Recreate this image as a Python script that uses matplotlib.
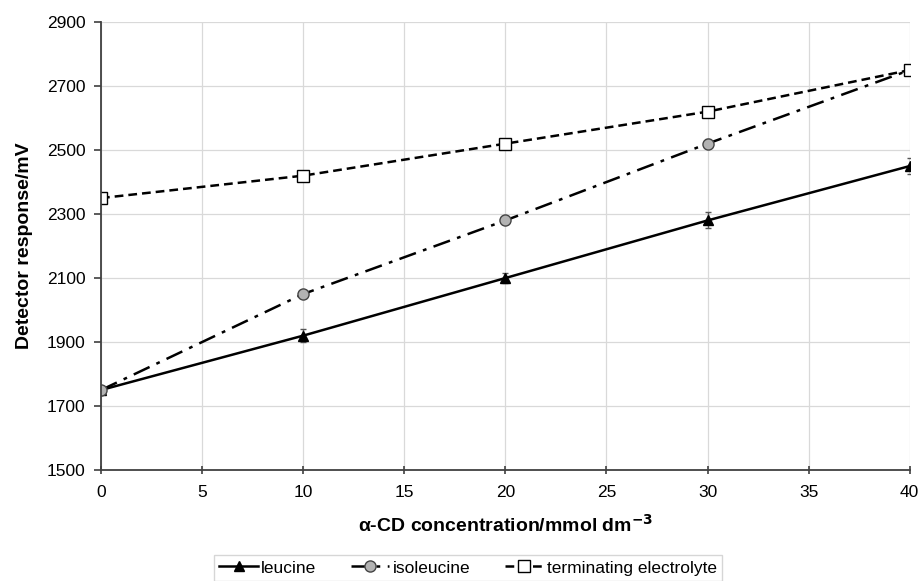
import matplotlib.pyplot as plt

plt.rcParams['font.family'] = ['Liberation Sans', 'DejaVu Sans']

# concentracion de alfa-CD (mmol dm-3)
conc = [0, 10, 20, 30, 40]
leucina = [1750, 1920, 2100, 2280, 2450]
leucina_err = [10, 20, 15, 25, 25]
isoleucina = [1750, 2050, 2280, 2520, 2750]
isoleucina_err = [10, 10, 10, 15, 10]
electrolito = [2350, 2420, 2520, 2620, 2750]
electrolito_err = [5, 5, 5, 5, 10]

fig = plt.figure(figsize=(9.2, 5.81), dpi=100)
ax = fig.add_axes([0.1098, 0.191, 0.879, 0.771])

# barras de error (sin leyenda)
for y, e in [(leucina, leucina_err), (isoleucina, isoleucina_err), (electrolito, electrolito_err)]:
    ax.errorbar(conc, y, yerr=e, fmt='none', ecolor='#555555', elinewidth=1, capsize=2)

ax.plot(conc, leucina, color='black', lw=1.8, ls='-', marker='^', ms=7,
        mfc='black', mec='black', label='leucine')
ax.plot(conc, isoleucina, color='black', lw=1.8, ls=(0, (7, 3, 1.5, 3)),
        marker='o', ms=8, mfc='#b3b3b3', mec='#444444', label='isoleucine')
ax.plot(conc, electrolito, color='black', lw=1.8, ls=(0, (3.5, 2)),
        marker='s', ms=8, mfc='white', mec='black', label='terminating electrolyte')

ax.set_xlim(0, 40)
ax.set_ylim(1500, 2900)
ax.set_xticks(range(0, 41, 5))
ax.set_yticks(range(1500, 2901, 200))
ax.grid(True, color='#d9d9d9', lw=0.9)
ax.set_axisbelow(True)
for s in ['top', 'right']:
    ax.spines[s].set_visible(False)
for s in ['left', 'bottom']:
    ax.spines[s].set_color('#404040')
    ax.spines[s].set_linewidth(1.3)
ax.tick_params(axis='y', direction='out', length=5, width=1.2, color='#404040',
               labelsize=12.5, pad=6)
ax.tick_params(axis='x', direction='inout', length=6, width=1.2, color='#404040',
               labelsize=12.5, pad=8)

ax.set_xlabel('α-CD concentration/mmol dm$^{\\mathbf{-3}}$', fontsize=14,
              fontweight='bold', labelpad=10)
ax.set_ylabel('Detector response/mV', fontsize=14, fontweight='bold', labelpad=10)

leg = ax.legend(loc='upper center', bbox_to_anchor=(0.454, -0.19), ncol=3,
                fontsize=12.5, frameon=True, fancybox=False, edgecolor='#cccccc',
                handlelength=2.2, columnspacing=2.0, handletextpad=0.2,
                borderpad=0.3, borderaxespad=0)
leg.get_frame().set_linewidth(1)

fig.savefig('out.png', dpi=100)
